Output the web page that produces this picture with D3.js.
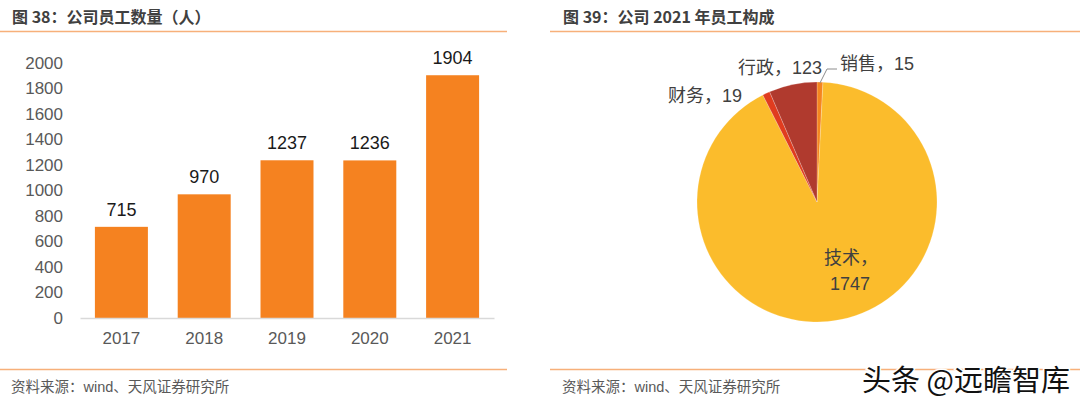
<!DOCTYPE html>
<html><head><meta charset="utf-8">
<script src="https://cdn.jsdelivr.net/npm/d3@7/dist/d3.min.js"></script>
<style>body{margin:0;background:#fff}svg{display:block}text{font-family:"Liberation Sans","Noto Sans CJK SC",sans-serif}</style>
</head><body><svg id="c" width="1080" height="403"></svg>
<script>
const years = ["2017","2018","2019","2020","2021"];
const staff = [715, 970, 1237, 1236, 1904];
const yTicks = [0,200,400,600,800,1000,1200,1400,1600,1800,2000];
const pieCats = ["销售","技术","财务","行政"];
const pieVals = [15, 1747, 19, 123];
const pieColors = ["#F5851F","#FBBC2C","#E03C1F","#B03A2E"];

const svg = d3.select("#c");
const cjk = '"Noto Sans CJK SC","Liberation Sans",sans-serif';
const mix = '"Liberation Sans","Noto Sans CJK SC",sans-serif';

// titles & rules
svg.append("text").attr("x",12).attr("y",23).attr("font-size",16).attr("font-weight","bold").attr("fill","#404040").style("font-family",cjk).text("图 38：公司员工数量（人）");
svg.append("text").attr("x",563).attr("y",23).attr("font-size",16).attr("font-weight","bold").attr("fill","#404040").style("font-family",cjk).text("图 39：公司 2021 年员工构成");
[[0,507],[550,1080]].forEach(([a,b])=>{
  svg.append("line").attr("x1",a).attr("x2",b).attr("y1",31.5).attr("y2",31.5).attr("stroke","#F7B07A").attr("stroke-width",1.5);
  svg.append("line").attr("x1",a).attr("x2",b).attr("y1",369.5).attr("y2",369.5).attr("stroke","#F7B07A").attr("stroke-width",1.5);
});
svg.append("text").attr("x",11).attr("y",392).attr("font-size",14.5).attr("fill","#595959").style("font-family",mix).text("资料来源：wind、天风证券研究所");
svg.append("text").attr("x",562).attr("y",392).attr("font-size",14.5).attr("fill","#595959").style("font-family",mix).text("资料来源：wind、天风证券研究所");

// bar chart
const x = d3.scaleBand().domain(years).range([80,494]).paddingInner(0.36).paddingOuter(0.18);
const y = d3.scaleLinear().domain([0,2000]).range([318,63]);
const yAxis = svg.append("g").attr("transform","translate(63,0)")
  .call(d3.axisLeft(y).tickValues(yTicks).tickSize(0).tickPadding(0).tickFormat(d3.format("d")));
yAxis.select(".domain").remove();
yAxis.selectAll("text").attr("font-size",17).attr("fill","#595959").style("font-family","Liberation Sans, sans-serif");
svg.selectAll(".bar").data(staff).enter().append("rect")
  .attr("x",(d,i)=>x(years[i])).attr("width",x.bandwidth())
  .attr("y",d=>y(d)).attr("height",d=>y(0)-y(d)).attr("fill","#F58220");
const xAxis = svg.append("g").attr("transform","translate(0,318)")
  .call(d3.axisBottom(x).tickSize(0).tickPadding(14));
xAxis.select(".domain").attr("stroke","#D9D9D9").attr("stroke-width",1.5);
xAxis.selectAll("text").attr("font-size",17).attr("fill","#595959").style("font-family","Liberation Sans, sans-serif");
svg.selectAll(".vl").data(staff).enter().append("text")
  .attr("x",(d,i)=>x(years[i])+x.bandwidth()/2).attr("y",d=>y(d)-11)
  .attr("text-anchor","middle").attr("font-size",18).attr("fill","#1a1a1a").text(d=>d);

// pie
const cx=817, cy=202, r=120;
const pie = d3.pie().sort(null).value(d=>d)(pieVals);
const arc = d3.arc().innerRadius(0).outerRadius(r);
const g = svg.append("g").attr("transform",`translate(${cx},${cy})`);
g.selectAll("path").data(pie).enter().append("path").attr("d",arc)
  .attr("fill",(d,i)=>pieColors[i]).attr("stroke","#ffffff").attr("stroke-opacity",0.35).attr("stroke-width",0.6);

// labels
const lab = (t,xx,yy,anchor)=>svg.append("text").attr("x",xx).attr("y",yy).attr("font-size",18).attr("fill","#404040").attr("text-anchor",anchor||"start").style("font-family",mix).text(t);
lab(pieCats[3]+"，"+pieVals[3],738,74);
lab(pieCats[0]+"，"+pieVals[0],840,70);
lab(pieCats[2]+"，"+pieVals[2],668,102);
lab(pieCats[1]+"，",824,264);
lab(String(pieVals[1]),830,290);
// leader for 销售
const a0 = (pie[0].startAngle+pie[0].endAngle)/2;
svg.append("polyline").attr("points",[[cx+Math.sin(a0)*(r-1),cy-Math.cos(a0)*(r-1)],[827,69],[837,69]].map(p=>p.join(",")).join(" "))
  .attr("fill","none").attr("stroke","#8c8c8c").attr("stroke-width",1);

// watermark
svg.append("text").attr("x",862).attr("y",391).attr("font-size",29).attr("fill","#111").attr("stroke","#fff").attr("stroke-width",3).attr("paint-order","stroke").style("font-family",cjk).text("头条 @远瞻智库");
</script></body></html>
